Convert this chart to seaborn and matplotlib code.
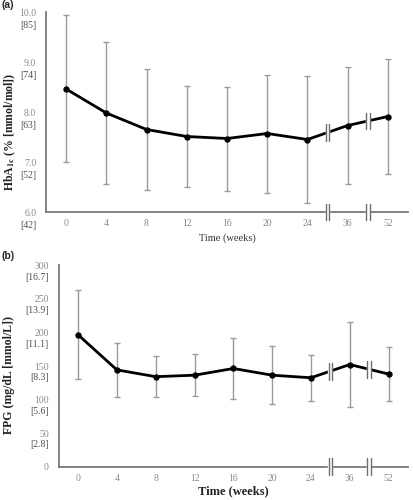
import numpy as np
import pandas as pd
import matplotlib
matplotlib.use('Agg')
import matplotlib.pyplot as plt
import matplotlib.transforms as mtransforms
import seaborn as sns

# Data (mean +/- SD)
weeks = ['0', '4', '8', '12', '16', '20', '24', '36', '52']
hba1c_mean = [8.46, 7.98, 7.65, 7.51, 7.47, 7.57, 7.45, 7.73, 7.91]
hba1c_sd = [1.47, 1.42, 1.21, 1.01, 1.04, 1.18, 1.27, 1.18, 1.15]
fpg_mean = [196.4, 144.2, 134.1, 136.3, 146.3, 136.3, 132.5, 152.2, 138.0]
fpg_sd = [66.4, 40.5, 30.3, 31.0, 45.9, 43.0, 34.3, 62.8, 39.8]

hba1c_ticks = [6.0, 7.0, 8.0, 9.0, 10.0]
hba1c_mmol = ['[42]', '[52]', '[63]', '[74]', '[85]']
fpg_ticks = [0, 50, 100, 150, 200, 250, 300]
fpg_mmol = ['', '[2.8]', '[5.6]', '[8.3]', '[11.1]', '[13.9]', '[16.7]']

sns.set_style('white')
plt.rcParams['font.family'] = ['Liberation Serif', 'DejaVu Serif']
plt.rcParams['mathtext.fontset'] = 'stix'

fig = plt.figure(figsize=(4.14, 5.0), dpi=100)
ax1 = fig.add_axes([46 / 414, 0.576, 362 / 414, 0.400])
ax2 = fig.add_axes([58.7 / 414, 0.0666, 349.3 / 414, 0.4028])

SPINE = '#7a7a7a'
ERR = '#9a9a9a'


def draw_break(ax, x, y, frac=0.042):
    lo, hi = ax.get_ylim()
    dy = frac * (hi - lo)
    ax.plot([x, x], [y - dy, y + dy], color='white', lw=3.2,
            solid_capstyle='butt', zorder=6, clip_on=False)
    for dx in (-0.045, 0.045):
        ax.plot([x + dx, x + dx], [y - dy, y + dy], color='#6e6e6e',
                lw=1.0, zorder=7, clip_on=False)


def panel(ax, mean, sd, ticks, fmt, mmol, ylim, bracket_dy):
    df = pd.DataFrame({'pos': np.arange(len(weeks)), 'mean': mean, 'sd': sd})
    ax.errorbar(df['pos'], df['mean'], yerr=df['sd'], fmt='none',
                ecolor=ERR, elinewidth=1.0, capsize=2.5, capthick=1.0, zorder=2)
    sns.lineplot(data=df, x='pos', y='mean', ax=ax, color='black', lw=2.0,
                 marker='o', markersize=3.8, markeredgecolor='black', zorder=4)
    ax.set_xlim(-0.5, 8.5)
    ax.set_ylim(*ylim)
    ax.set_xticks(df['pos'])
    ax.set_xticklabels(weeks)
    ax.set_yticks(ticks)
    ax.set_yticklabels([fmt.format(t) for t in ticks])
    ax.tick_params(axis='both', length=0, labelsize=7, labelcolor='#8a8a8a')
    ax.tick_params(axis='y', pad=7)
    ax.tick_params(axis='x', pad=5)
    for s in ['top', 'right']:
        ax.spines[s].set_visible(False)
    for s in ['left', 'bottom']:
        ax.spines[s].set_color(SPINE)
        ax.spines[s].set_linewidth(1.3)
    trans = mtransforms.offset_copy(ax.get_yaxis_transform(), fig=fig,
                                    x=-7, y=-bracket_dy, units='points')
    for t, lab in zip(ticks, mmol):
        ax.text(0, t, lab, transform=trans, ha='right', va='center',
                fontsize=7, color='#505050')
    # axis breaks between 24-36 and 36-52
    for xb in (6.5, 7.5):
        i = int(xb)
        draw_break(ax, xb, (mean[i] + mean[i + 1]) / 2)
        draw_break(ax, xb, ylim[0])


panel(ax1, hba1c_mean, hba1c_sd, hba1c_ticks, '{:.1f}', hba1c_mmol, (6.0, 10.0), 10)
panel(ax2, fpg_mean, fpg_sd, fpg_ticks, '{:d}', fpg_mmol, (0, 300), 8.5)

ax1.set_xlabel('Time (weeks)', fontsize=7.5, color='#333333')
ax1.xaxis.set_label_coords(0.5, -0.105)
ax1.set_ylabel('')
ax2.set_xlabel('Time (weeks)', fontsize=9, fontweight='bold', color='#222222')
ax2.xaxis.set_label_coords(0.5, -0.09)
ax2.set_ylabel('')

fig.text(10 / 414, 1 - 131.5 / 500, r'HbA$_{\mathbf{1c}}$ (% [mmol/mol])',
         rotation=90, ha='center', va='center', fontsize=8.5, fontweight='bold',
         color='#222222')
fig.text(9 / 414, 1 - 375.5 / 500, 'FPG (mg/dL [mmol/L])',
         rotation=90, ha='center', va='center', fontsize=8.5, fontweight='bold',
         color='#222222')

fig.text(2 / 414, 1 - 5 / 500, '(a)', family='Liberation Sans', fontweight='bold',
         fontsize=7.5, ha='left', va='center')
fig.text(2 / 414, 1 - 256 / 500, '(b)', family='Liberation Sans', fontweight='bold',
         fontsize=7.5, ha='left', va='center')

fig.savefig('out.png', dpi=100)
